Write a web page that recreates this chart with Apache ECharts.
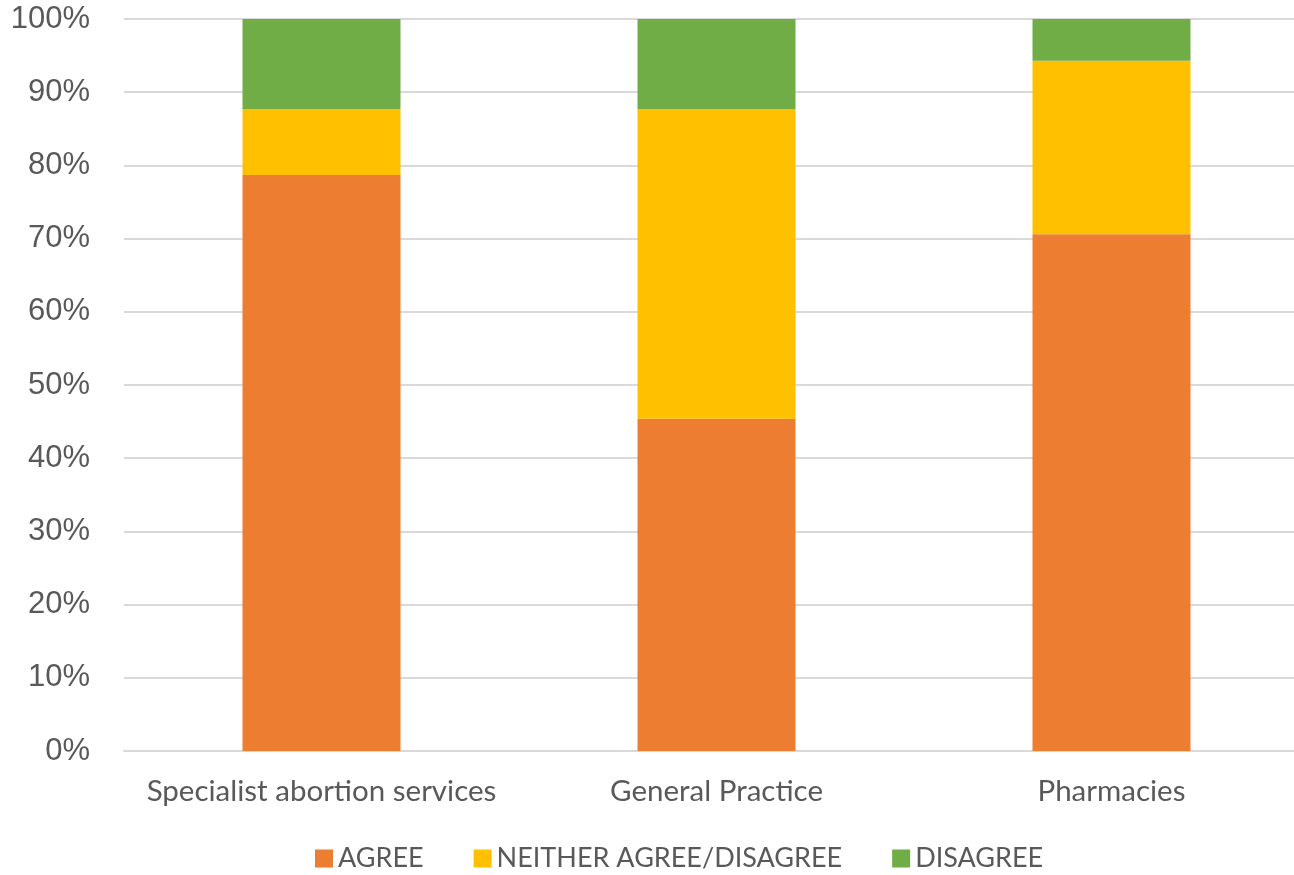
<!DOCTYPE html>
<html>
<head>
<meta charset="utf-8">
<script src="https://cdn.jsdelivr.net/npm/echarts@6/dist/echarts.min.js"></script>
<style>
  html, body { margin: 0; padding: 0; background: #fff; }
  #chart { width: 1294px; height: 875px; }
</style>
</head>
<body>
<div id="chart"></div>
<script>
  // data (percent of responses)
  var categories = ['Specialist abortion services', 'General Practice', 'Pharmacies'];
  var agree = [78.7, 45.4, 70.6];
  var neither = [9.0, 42.3, 23.7];
  var disagree = [12.3, 12.3, 5.7];
  var seriesNames = ['AGREE', 'NEITHER AGREE/DISAGREE', 'DISAGREE'];
  var colors = ['#ED7D31', '#FFC000', '#70AD47'];

  var chart = echarts.init(document.getElementById('chart'));
  var values = [agree, neither, disagree];

  chart.setOption({
    animation: false,
    color: colors,
    legend: {
      bottom: -2,
      left: 310,
      itemWidth: 18,
      itemHeight: 18,
      itemGap: 50,
      icon: 'rect',
      textStyle: { fontFamily: 'Lato', fontSize: 27, color: '#595959' },
      data: seriesNames
    },
    grid: {
      left: 124,
      top: 19,
      width: 1185,
      bottom: 124,
      outerBoundsMode: 'none'
    },
    xAxis: {
      type: 'category',
      data: categories,
      axisLine: { lineStyle: { color: '#D9D9D9', width: 2 } },
      axisTick: { show: false },
      axisLabel: { interval: 0, fontFamily: 'Lato', fontSize: 29.5, color: '#595959', margin: 25 }
    },
    yAxis: {
      type: 'value',
      min: 0,
      max: 100,
      interval: 10,
      axisLine: { show: false },
      axisTick: { show: false },
      splitLine: { lineStyle: { color: '#D9D9D9', width: 2 } },
      axisLabel: {
        formatter: '{value}%',
        fontFamily: 'Liberation Sans',
        fontSize: 31,
        color: '#595959',
        margin: 34
      }
    },
    series: seriesNames.map(function (name, i) {
      return {
        name: name,
        type: 'bar',
        stack: 'total',
        barWidth: 158,
        data: values[i]
      };
    })
  });
</script>
</body>
</html>
